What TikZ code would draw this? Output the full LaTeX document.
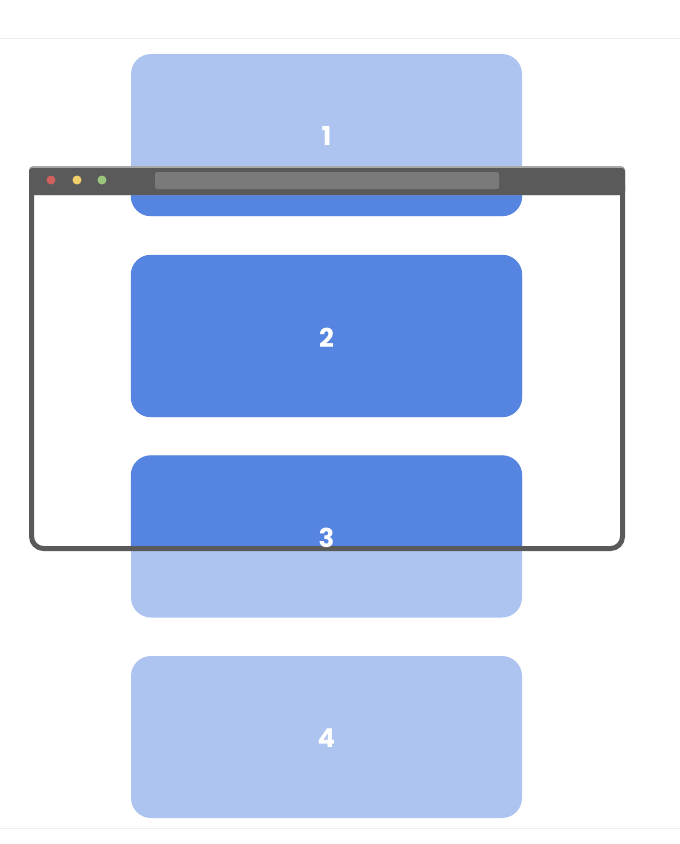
\documentclass[tikz,border=0pt]{standalone}
\usepackage{fontspec}
\setmainfont{Poppins}
\definecolor{lightbox}{HTML}{ADC4F0}
\definecolor{darkbox}{HTML}{5585E0}
\definecolor{frame}{HTML}{5A5A5A}
\definecolor{framerim}{HTML}{A8A8A8}
\definecolor{addr}{HTML}{7A7A7A}
\definecolor{rule}{HTML}{EEEEEE}
\definecolor{dotred}{HTML}{D0605E}
\definecolor{dotyellow}{HTML}{F2D06B}
\definecolor{dotgreen}{HTML}{9BC57A}
\tikzset{
  card/.style={rectangle, rounded corners=20pt, minimum width=391pt, minimum height=162pt, inner sep=0pt, draw=none},
  cardtext/.style={text=white, font=\fontsize{26}{30}\selectfont\bfseries, inner sep=0pt},
  dot/.style={circle, minimum size=9pt, inner sep=0pt, draw=none}
}
\begin{document}
\begin{tikzpicture}[x=1pt,y=-1pt]
\useasboundingbox (0,0) rectangle (680,844);
\fill[white] (0,0) rectangle (680,844);
\draw[rule, line width=1pt] (0,38) -- (680,38);
\draw[rule, line width=1pt] (0,828) -- (680,828);
% light cards
\node[card, fill=lightbox] (c1) at (326.5,135) {};
\node[card, fill=lightbox] (c2) at (326.5,336) {};
\node[card, fill=lightbox] (c3) at (326.5,536.5) {};
\node[card, fill=lightbox] (c4) at (326.5,737) {};
% dark parts inside the browser viewport
\begin{scope}
  \clip (34,195) rectangle (620,546);
  \fill[darkbox, rounded corners=20pt] (c1.south west) rectangle (c1.north east);
  \fill[darkbox, rounded corners=20pt] (c2.south west) rectangle (c2.north east);
  \fill[darkbox, rounded corners=20pt] (c3.south west) rectangle (c3.north east);
\end{scope}
% browser frame
\draw[frame, line width=5pt, rounded corners=12pt] (31.5,185) -- (31.5,548.5) -- (622.5,548.5) -- (622.5,185);
\fill[framerim, rounded corners=4pt] (29,166) rectangle (625,195);
\fill[frame, rounded corners=3pt] (29,168) rectangle (625,195);
\fill[frame] (29,185) rectangle (625,195);
\node[dot, fill=dotred] (d1) at (51,180) {};
\node[dot, fill=dotyellow] (d2) at (77,180) {};
\node[dot, fill=dotgreen] (d3) at (102,180) {};
\fill[addr, rounded corners=2pt] (155,172) rectangle (499,189);
% labels
\node[cardtext] (t1) at (326.5,136.5) {1};
\node[cardtext] (t2) at (326.5,337.5) {2};
\node[cardtext] (t3) at (326.5,538) {3};
\node[cardtext] (t4) at (326.5,738.5) {4};
\end{tikzpicture}
\end{document}
